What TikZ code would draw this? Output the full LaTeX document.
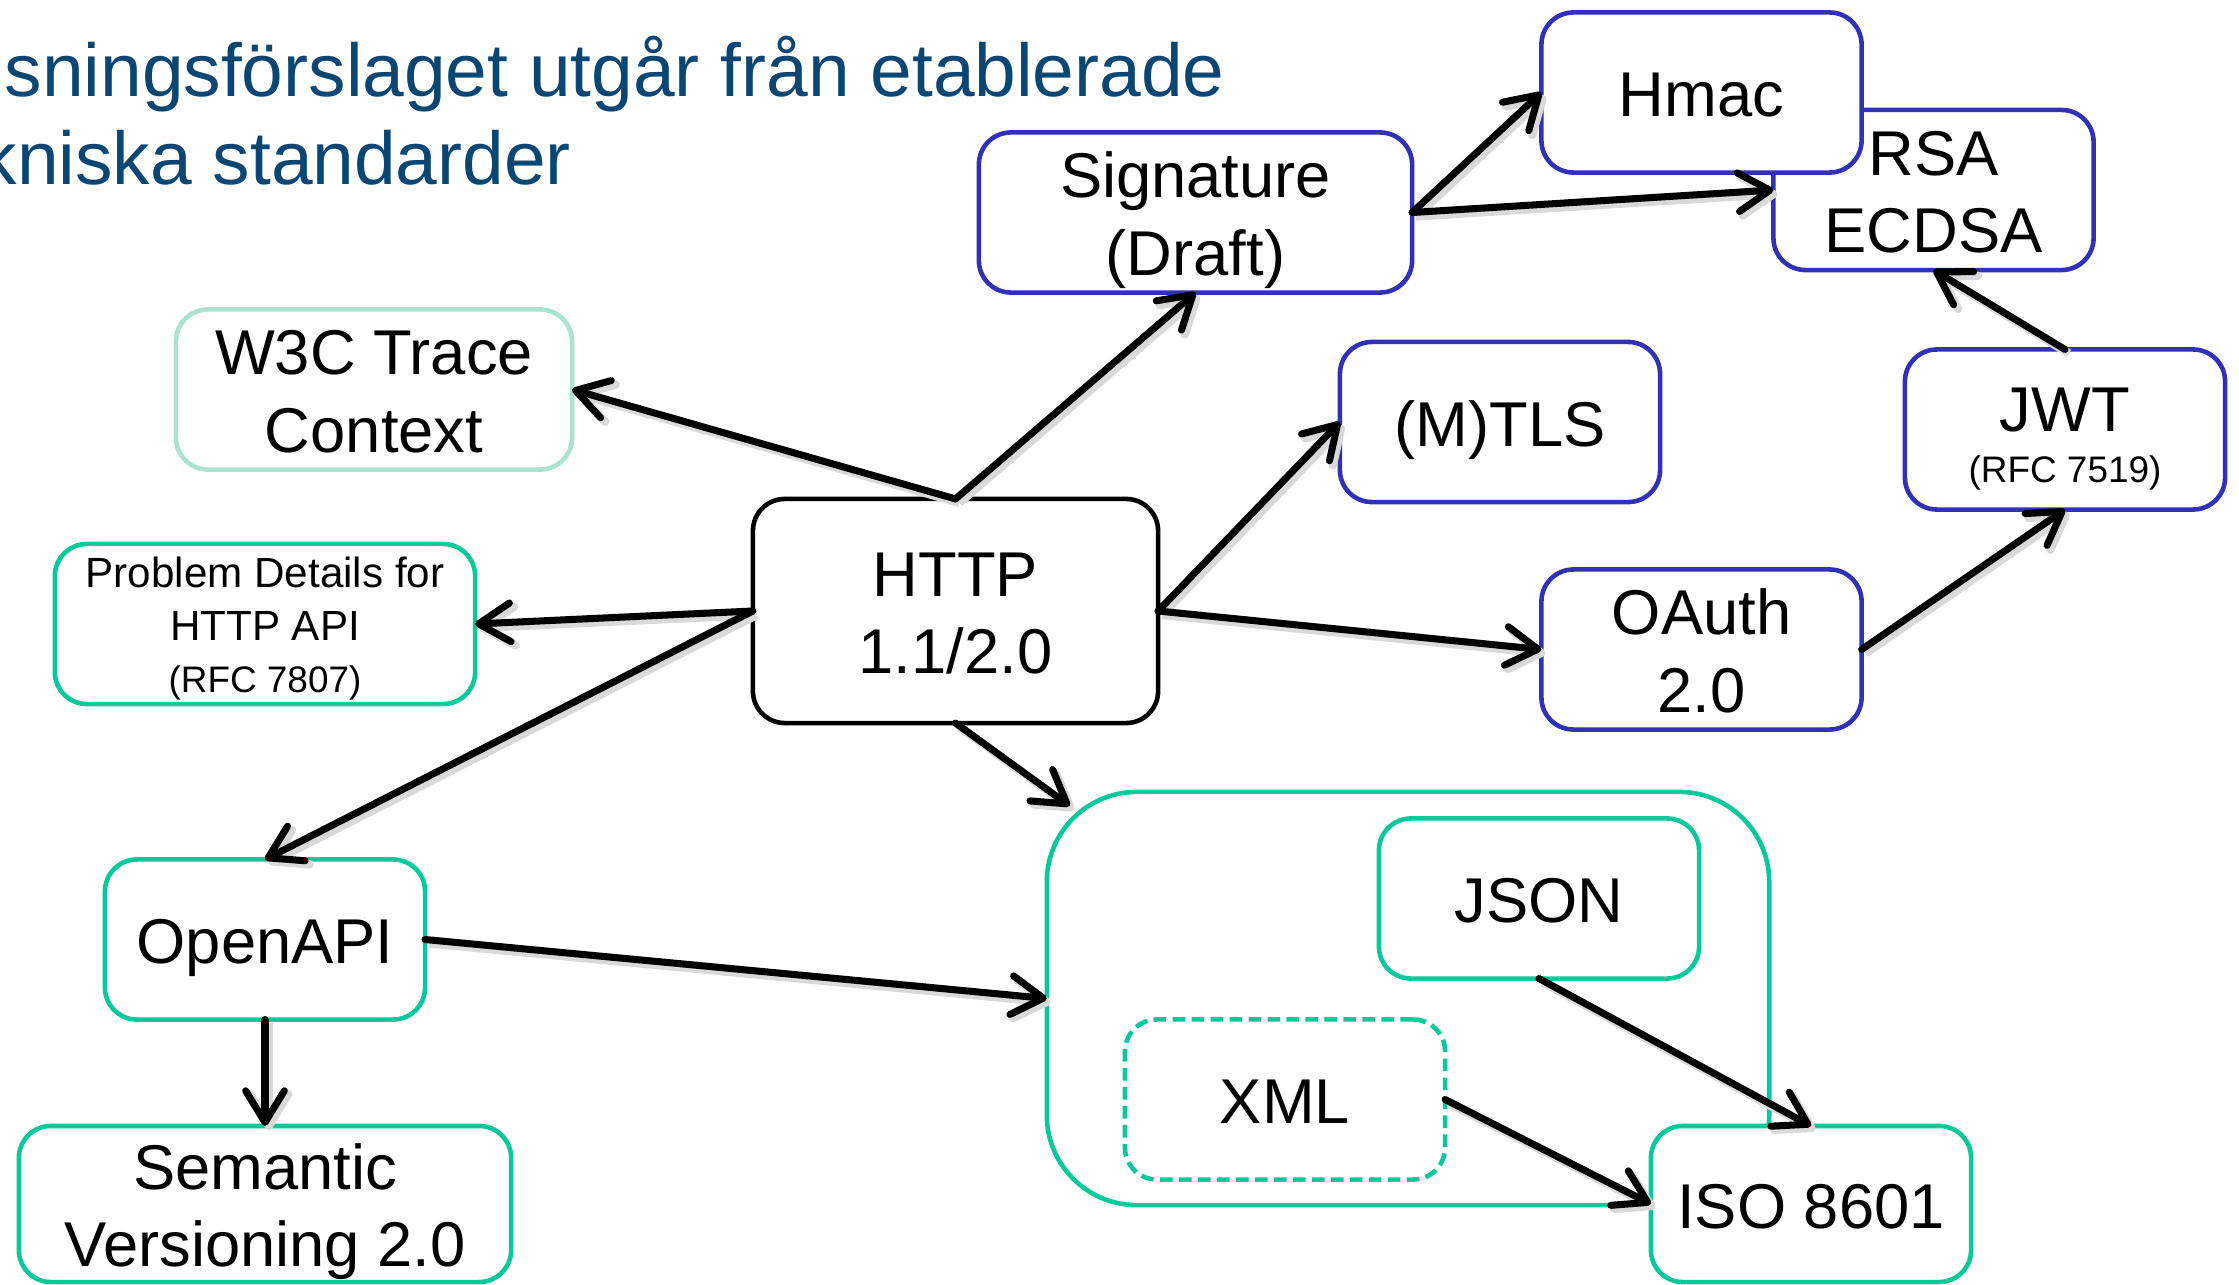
\documentclass[tikz,border=0pt]{standalone}
\usepackage{fontspec}
\setmainfont{Liberation Sans}
\usetikzlibrary{arrows.meta,calc}
\definecolor{titleblue}{RGB}{10,70,115}
\definecolor{boxblue}{RGB}{48,48,184}
\definecolor{boxgreen}{RGB}{8,201,154}
\definecolor{lightgreen}{RGB}{170,228,206}
\newcommand\mytop{\rule{0pt}{0.97em}}
\newcommand\mybot{\rule[-0.21em]{0pt}{0.21em}}
\begin{document}
\begin{tikzpicture}[x=0.01cm,y=-0.01cm,
  box/.style={draw, line width=1.3pt, rounded corners=0.32cm, fill=white,
    minimum width=3.2cm, minimum height=1.6cm, inner sep=0pt, outer sep=0pt,
    align=center, font=\fontsize{18}{22}\selectfont},
  bluebox/.style={box, draw=boxblue},
  greenbox/.style={box, draw=boxgreen},
  titletext/.style={anchor=base west, inner sep=0pt, text=titleblue, font=\fontsize{21.3}{25}\selectfont},
  arr/.style={line width=2pt, line cap=round, -{Straight Barb[length=9pt,width=11pt,round]},
    preaction={draw=black!15, line width=2.4pt, transform canvas={xshift=1.1pt,yshift=-1.1pt}}},
]
\useasboundingbox (0,0) rectangle (2239,1285);

% title
\node[titletext] (t1) at (4,97) {sningsförslaget utgår från etablerade};
\node[titletext] (t2) at (-21,185) {kniska standarder};

% top right cluster
\node[bluebox] (rsa) at (1933.5,190) {\mytop RSA\\ECDSA\mybot};
\node[bluebox] (hmac) at (1701.5,92.5) {\mytop Hmac\mybot};
\node[bluebox, minimum width=4.33cm] (sig) at (1195.5,212.5) {\mytop Signature\\(Draft)\mybot};
\node[bluebox] (mtls) at (1500,422) {\mytop (M)TLS\mybot};
\node[bluebox] (jwt) at (2065,429.5) {\rule{0pt}{1.08em}JWT\\[-7.5pt]{\fontsize{10.5}{12}\selectfont (RFC 7519)}\mybot};
\node[bluebox] (oauth) at (1701.5,649.5) {\mytop OAuth\\2.0\mybot};

% left
\node[box, draw=lightgreen, minimum width=3.96cm] (w3c) at (374,389.5) {\mytop W3C Trace\\Context\mybot};
\node[greenbox, minimum width=4.2cm, font=\fontsize{12}{14.8}\selectfont] (prob) at (265,624)
  {\mytop Problem Details for\\HTTP API\\{\fontsize{10.5}{12}\selectfont (RFC 7807)}\mybot};
\node[box, draw=black, minimum width=4.05cm, minimum height=2.24cm] (http) at (955.5,611) {\mytop HTTP\\1.1/2.0\mybot};
\node[greenbox] (oapi) at (265,939.5) {\mytop OpenAPI\mybot};
\node[greenbox, minimum width=4.92cm, minimum height=1.56cm] (sem) at (265,1204) {\mytop Semantic\\Versioning 2.0\mybot};

% formats group
\node[draw=boxgreen, line width=1.3pt, rounded corners=0.9cm, minimum width=7.22cm,
  minimum height=4.13cm, inner sep=0pt, outer sep=0pt] (grp) at (1408,998.5) {};
\node[greenbox] (json) at (1539,898.5) {\mytop JSON\mybot};
\node[greenbox, dash pattern=on 3.6pt off 1.8pt] (xml) at (1285,1099.5) {\mytop XML\mybot};
\node[greenbox, minimum height=1.56cm] (iso) at (1811,1204) {\mytop ISO 8601\mybot};

% connectors
\draw[arr] (http.north) -- (w3c.east);
\draw[arr] (http.north) -- (sig.south);
\draw[arr] (http.east) -- (mtls.west);
\draw[arr] (http.west) -- (prob.east);
\draw[arr] (http.west) -- (oapi.north);
\draw[arr] (http.east) -- (oauth.west);
\draw[arr] (http.south) -- ($(grp.north west)+(23,14)$);
\draw[arr] (oapi.east) -- (grp.west);
\draw[arr] (oapi.south) -- (sem.north);
\draw[arr] (sig.east) -- (hmac.west);
\draw[arr] (sig.east) -- (rsa.west);
\draw[arr] (jwt.north) -- (rsa.south);
\draw[arr] (oauth.east) -- (jwt.south);
\draw[arr] (json.south) -- (iso.north);
\draw[arr] (xml.east) -- (iso.west);
\end{tikzpicture}
\end{document}
